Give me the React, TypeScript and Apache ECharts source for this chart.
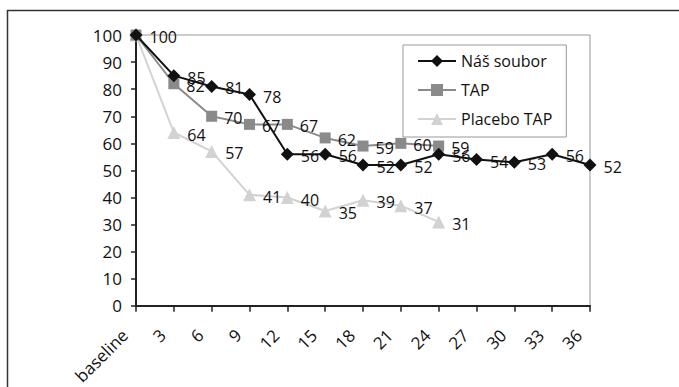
import React, { useEffect, useRef } from "react";
import * as echarts from "echarts";

const categories = ["baseline", "3", "6", "9", "12", "15", "18", "21", "24", "27", "30", "33", "36"];
const nasSoubor = [100, 85, 81, 78, 56, 56, 52, 52, 56, 54, 53, 56, 52];
const tap = [100, 82, 70, 67, 67, 62, 59, 60, 59];
const placeboTap = [100, 64, 57, 41, 40, 35, 39, 37, 31];
const yTicks = { min: 0, max: 100, interval: 10 };

const FONT = "Open Sans";

// hide the duplicated baseline label on the two comparison series
const hideFirstLabel = (arr: number[]) =>
  arr.map((v, i) => (i === 0 ? { value: v, label: { show: false } } : v));

export default function App() {
  const ref = useRef<HTMLDivElement>(null);
  useEffect(() => {
    if (!ref.current) return;
    const chart = echarts.init(ref.current, undefined, { renderer: "svg" });
    const label = {
      show: true,
      position: "right" as const,
      distance: 7,
      offset: [0, 2],
      color: "#111",
      fontFamily: FONT,
      fontSize: 16,
    };
    chart.setOption({
      animation: false,
      backgroundColor: "#fff",
      textStyle: { fontFamily: FONT },
      graphic: [
        {
          type: "rect",
          shape: { x: 7.5, y: 10.5, width: 720, height: 420 },
          style: { fill: "none", stroke: "#333", lineWidth: 1.5 },
          silent: true,
          z: -1,
        },
      ],
      grid: {
        left: 136,
        top: 35,
        right: 89,
        bottom: 81,
        show: true,
        borderColor: "#999",
        borderWidth: 1,
        backgroundColor: "transparent",
      },
      legend: {
        orient: "vertical",
        left: 403,
        top: 45,
        padding: [8, 14, 10, 14],
        itemGap: 13,
        itemWidth: 38,
        itemHeight: 15,
        borderColor: "#999",
        borderWidth: 1,
        backgroundColor: "#fff",
        textStyle: { fontFamily: FONT, fontSize: 16, color: "#111" },
        data: ["Náš soubor", "TAP", "Placebo TAP"],
      },
      xAxis: {
        type: "category",
        data: categories,
        boundaryGap: false,
        axisLine: { lineStyle: { color: "#222", width: 2 } },
        axisTick: { show: true, alignWithLabel: true, length: 6, lineStyle: { color: "#222", width: 1.5 } },
        axisLabel: {
          interval: 0,
          rotate: 45,
          margin: 15,
          padding: [0, 16, 0, 0],
          color: "#111",
          fontFamily: FONT,
          fontSize: 17,
        },
        splitLine: { show: false },
      },
      yAxis: {
        type: "value",
        min: yTicks.min,
        max: yTicks.max,
        interval: yTicks.interval,
        axisLine: { show: true, lineStyle: { color: "#222", width: 2 } },
        axisTick: { show: true, length: 5, lineStyle: { color: "#222", width: 1.5 } },
        axisLabel: { margin: 14, color: "#111", fontFamily: FONT, fontSize: 17 },
        splitLine: { show: false },
      },
      series: [
        {
          name: "Placebo TAP",
          type: "line",
          data: hideFirstLabel(placeboTap),
          symbol: "triangle",
          symbolSize: 13,
          itemStyle: { color: "#d2d2d2" },
          lineStyle: { color: "#d2d2d2", width: 2 },
          label,
          z: 2,
        },
        {
          name: "TAP",
          type: "line",
          data: hideFirstLabel(tap),
          symbol: "rect",
          symbolSize: 11,
          itemStyle: { color: "#8a8a8a" },
          lineStyle: { color: "#8a8a8a", width: 2 },
          label,
          z: 3,
        },
        {
          name: "Náš soubor",
          type: "line",
          data: nasSoubor,
          symbol: "diamond",
          symbolSize: 13,
          itemStyle: { color: "#111" },
          lineStyle: { color: "#111", width: 2 },
          label,
          z: 4,
        },
      ],
    });
    return () => chart.dispose();
  }, []);
  return (
    <div
      ref={ref}
      style={{ position: "absolute", left: 0, top: 0, width: 679, height: 387 }}
    />
  );
}
